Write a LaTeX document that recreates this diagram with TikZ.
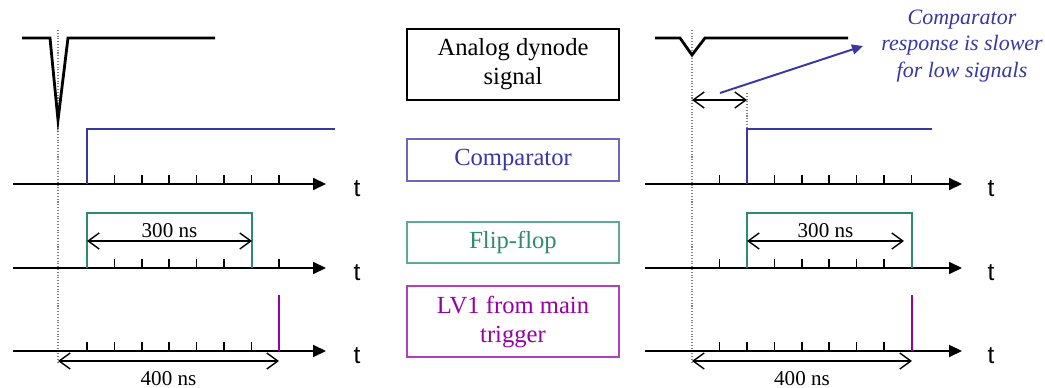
\documentclass[tikz,border=0pt]{standalone}
\usepackage{fontspec}
\setmainfont{Liberation Serif}
\newfontfamily\tfont{Liberation Sans}
\usetikzlibrary{arrows.meta}

\definecolor{cmpblue}{RGB}{55,55,165}
\definecolor{ffgreen}{RGB}{45,140,105}
\definecolor{lvpurple}{RGB}{150,0,165}

\tikzset{
  sig/.style={line width=1.6pt,line join=miter},
  axis/.style={line width=1.1pt,-{Triangle[length=0.26cm,width=0.24cm]}},
  tickmark/.style={line width=0.9pt},
  guide/.style={densely dotted,gray,line width=0.6pt},
  dim/.style={line width=0.8pt,{Straight Barb[length=0.22cm,width=0.32cm]}-{Straight Barb[length=0.22cm,width=0.32cm]}},
  tlab/.style={font=\tfont\fontsize{14}{16}\selectfont},
  lbox/.style={draw,line width=0.8pt,minimum width=4.24cm,align=center,
    font=\fontsize{14}{16.5}\selectfont},
}

\begin{document}
\begin{tikzpicture}[x=0.02cm,y=-0.02cm]
\useasboundingbox (0,0) rectangle (1045,388);

% labels in the middle
\node[lbox,minimum height=1.42cm] (analog) at (513,64.5) {Analog dynode\\signal};
\node[lbox,draw=cmpblue!75,text=cmpblue,minimum height=0.84cm] (comp) at (513,160) {Comparator};
\node[lbox,draw=ffgreen!75,text=ffgreen,minimum height=0.82cm] (flip) at (513,242.5) {Flip-flop};
\node[lbox,draw=lvpurple!75,text=lvpurple,minimum height=1.42cm] (lvone) at (513,321.5) {LV1 from main\\trigger};

% left: large signal
\draw[guide] (58,30) -- (58,362);
\draw[sig] (22,38) -- (50,38) -- (58,120) -- (68,38) -- (215,38);
\draw[axis] (13,184) -- (326,184);
\draw[axis] (13,268) -- (326,268);
\draw[axis] (13,351) -- (326,351);
\node[tlab] (tLa) at (357,189) {t};
\node[tlab] (tLb) at (357,273) {t};
\node[tlab] (tLc) at (357,356) {t};
\foreach \i in {0,...,7} \draw[tickmark] (87+27.4*\i,184) -- ++(0,-9);
\foreach \i in {0,...,7} \draw[tickmark] (87+27.4*\i,268) -- ++(0,-9);
\foreach \i in {0,...,6} \draw[tickmark] (87+27.4*\i,351) -- ++(0,-9);
\draw[sig,cmpblue,line width=1.3pt] (87,184) -- (87,129) -- (335,129);
\draw[sig,ffgreen,line width=1.3pt] (87,268) -- (87,213) -- (252,213) -- (252,268);
\draw[sig,lvpurple,line width=1.3pt] (279,351) -- (279,295);
\coordinate (la) at (87,241);
\coordinate (lb) at (252,241);
\draw[dim] (la) -- node[above=-2pt,font=\fontsize{12}{14}\selectfont] {300 ns} (lb);
\coordinate (lc) at (58,361);
\coordinate (ld) at (279,361);
\draw[dim] (lc) -- node[below=2pt,font=\fontsize{12}{14}\selectfont] {400 ns} (ld);

% right: low signal
\draw[guide] (692,30) -- (692,362);
\draw[guide] (747,93) -- (747,129);
\draw[sig] (655,38) -- (680,38) -- (692,55) -- (705,38) -- (848,38);
\draw[axis] (645,184) -- (962,184);
\draw[axis] (645,268) -- (962,268);
\draw[axis] (645,351) -- (962,351);
\node[tlab] (tRa) at (991,189) {t};
\node[tlab] (tRb) at (991,273) {t};
\node[tlab] (tRc) at (991,356) {t};
\foreach \i in {0,...,7} \draw[tickmark] (719.6+27.4*\i,184) -- ++(0,-9);
\foreach \i in {0,...,7} \draw[tickmark] (719.6+27.4*\i,268) -- ++(0,-9);
\foreach \i in {0,...,6} \draw[tickmark] (719.6+27.4*\i,351) -- ++(0,-9);
\draw[sig,cmpblue,line width=1.3pt] (747,184) -- (747,129) -- (932,129);
\draw[sig,ffgreen,line width=1.3pt] (747,268) -- (747,213) -- (912,213) -- (912,268);
\draw[sig,lvpurple,line width=1.3pt] (912,351) -- (912,295);
\coordinate (ra) at (747,241);
\coordinate (rb) at (904,241);
\draw[dim] (ra) -- node[above=-2pt,font=\fontsize{12}{14}\selectfont] {300 ns} (rb);
\coordinate (rc) at (692,361);
\coordinate (rd) at (912,361);
\draw[dim] (rc) -- node[below=2pt,font=\fontsize{12}{14}\selectfont] {400 ns} (rd);
\coordinate (de) at (692,100);
\coordinate (df) at (747,100);
\draw[dim] (de) -- (df);

% note on the delay
\node[text=cmpblue,align=center,font=\itshape\fontsize{12.5}{15}\selectfont] (note) at (962,46)
  {Comparator\\response is slower\\for low signals};
\coordinate (ns) at (720,93);
\coordinate (ne) at (863,46);
\draw[cmpblue,line width=1.1pt,-{Triangle[length=0.22cm,width=0.2cm]}] (ns) -- (ne);
\end{tikzpicture}
\end{document}
